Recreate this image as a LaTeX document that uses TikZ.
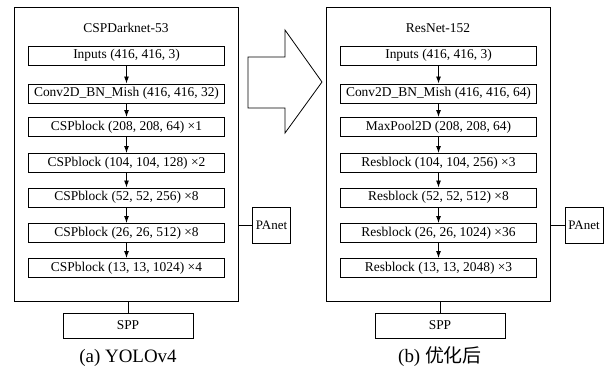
\documentclass[tikz,border=0pt]{standalone}
\usepackage{fontspec}
\setmainfont{Liberation Serif}
\newfontfamily\cjkfont{Noto Sans CJK SC}
\usetikzlibrary{arrows.meta}
\begin{document}
\begin{tikzpicture}[x=1bp,y=-1bp,
  frame/.style={draw, line width=0.8pt, inner sep=0pt},
  layer/.style={draw, line width=1pt, minimum width=196bp, minimum height=19bp,
    inner sep=0pt, font=\fontsize{13.5}{15}\selectfont},
  sidebox/.style={draw, line width=1pt, minimum width=38bp, minimum height=36bp,
    inner sep=0pt, font=\fontsize{13}{15}\selectfont},
  pool/.style={draw, line width=1pt, minimum width=130bp, minimum height=25bp,
    inner sep=0pt, font=\fontsize{13.5}{15}\selectfont},
  title/.style={font=\fontsize{13.5}{15}\selectfont},
  caption/.style={font=\fontsize{19}{22}\selectfont},
  flow/.style={-{Latex[length=7pt,width=5pt]}, line width=0.9pt},
  link/.style={line width=0.9pt}]
\useasboundingbox (0,0) rectangle (605,370);

% ---------------- (a) YOLOv4 backbone ----------------
\node[frame, minimum width=224bp, minimum height=294bp] (netA) at (126,154) {};
\node[title] (titleA) at (126,28) {CSPDarknet-53};
\node[layer] (a1) at (126.5,55.5) {Inputs (416, 416, 3)};
\node[layer] (a2) at (126.5,93.5) {Conv2D\_BN\_Mish (416, 416, 32)};
\node[layer] (a3) at (126.5,127) {CSPblock (208, 208, 64) \texttimes1};
\node[layer] (a4) at (126.5,163) {CSPblock (104, 104, 128) \texttimes2};
\node[layer] (a5) at (126.5,197.5) {CSPblock (52, 52, 256) \texttimes8};
\node[layer] (a6) at (126.5,233) {CSPblock (26, 26, 512) \texttimes8};
\node[layer] (a7) at (126.5,268) {CSPblock (13, 13, 1024) \texttimes4};
\foreach \i/\j in {a1/a2,a2/a3,a3/a4,a4/a5,a5/a6,a6/a7}
  \draw[flow] (\i) -- (\j);

\node[pool] (sppA) at (128,325.5) {SPP};
\draw[link] (sppA.north |- netA.south) -- (sppA.north);
\node[sidebox] (panA) at (271.5,225) {PAnet};
\draw[link] (netA.east |- panA.west) -- (panA.west);
\node[caption] (capA) at (128,358) {(a) YOLOv4};

% ---------------- transition arrow ----------------
\draw[line width=0.8pt, line join=miter]
  (248,57) -- (285,57) -- (285,30) -- (322,82) -- (285,133) -- (285,108) -- (248,108) -- cycle;

% ---------------- (b) optimised backbone ----------------
\node[frame, minimum width=224bp, minimum height=294bp] (netB) at (438,154) {};
\node[title] (titleB) at (438,28) {ResNet-152};
\node[layer] (b1) at (438.5,55.5) {Inputs (416, 416, 3)};
\node[layer] (b2) at (438.5,93.5) {Conv2D\_BN\_Mish (416, 416, 64)};
\node[layer] (b3) at (438.5,127) {MaxPool2D (208, 208, 64)};
\node[layer] (b4) at (438.5,163) {Resblock (104, 104, 256) \texttimes3};
\node[layer] (b5) at (438.5,197.5) {Resblock (52, 52, 512) \texttimes8};
\node[layer] (b6) at (438.5,233) {Resblock (26, 26, 1024) \texttimes36};
\node[layer] (b7) at (438.5,268) {Resblock (13, 13, 2048) \texttimes3};
\foreach \i/\j in {b1/b2,b2/b3,b3/b4,b4/b5,b5/b6,b6/b7}
  \draw[flow] (\i) -- (\j);

\node[pool] (sppB) at (440,325.5) {SPP};
\draw[link] (sppB.north |- netB.south) -- (sppB.north);
\node[sidebox] (panB) at (584,225.5) {PAnet};
\draw[link] (netB.east |- panB.west) -- (panB.west);
\node[caption] (capB) at (440,357) {(b) {\cjkfont 优化后}};
\end{tikzpicture}
\end{document}
